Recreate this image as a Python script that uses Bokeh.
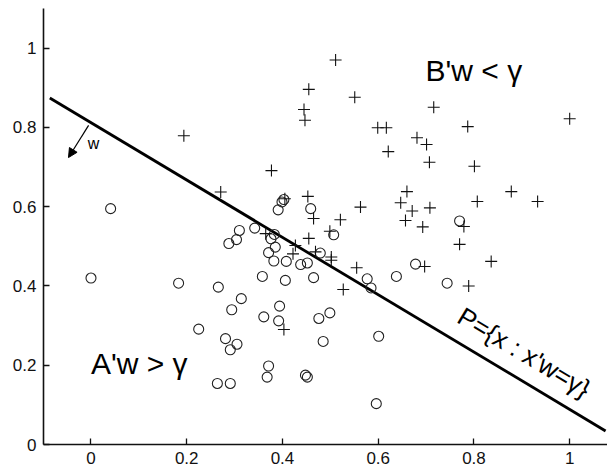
from bokeh.plotting import figure
from bokeh.models import Range1d, FixedTicker, Arrow, NormalHead
from bokeh.core.properties import value
from bokeh.embed import file_html
from bokeh.resources import INLINE

# Class A points (circles)
a_x = [0.000, 0.041, 0.183, 0.266, 0.314, 0.294, 0.225, 0.281, 0.305, 0.291,
       0.264, 0.291, 0.361, 0.394, 0.392, 0.371, 0.368, 0.358, 0.406, 0.408,
       0.382, 0.371, 0.385, 0.438, 0.452, 0.288, 0.304, 0.310, 0.342, 0.383,
       0.376, 0.391, 0.403, 0.399, 0.459, 0.507, 0.479, 0.465, 0.577, 0.585,
       0.638, 0.678, 0.744, 0.770, 0.499, 0.476, 0.485, 0.601, 0.448, 0.452,
       0.596]
a_y = [0.420, 0.595, 0.407, 0.397, 0.368, 0.340, 0.291, 0.267, 0.253, 0.239,
       0.154, 0.154, 0.322, 0.349, 0.312, 0.198, 0.170, 0.424, 0.414, 0.462,
       0.463, 0.484, 0.498, 0.454, 0.458, 0.507, 0.517, 0.540, 0.546, 0.530,
       0.519, 0.592, 0.618, 0.612, 0.595, 0.529, 0.483, 0.421, 0.418, 0.395,
       0.424, 0.455, 0.407, 0.564, 0.332, 0.318, 0.260, 0.273, 0.175, 0.170,
       0.103]

# Class B points (plus signs)
b_x = [0.194, 0.377, 0.271, 0.511, 0.455, 0.551, 0.445, 0.447, 0.599, 0.617,
       0.716, 0.621, 0.681, 0.701, 0.707, 0.787, 1.000, 0.801, 0.878, 0.933,
       0.807, 0.660, 0.647, 0.671, 0.657, 0.708, 0.693, 0.563, 0.521, 0.465,
       0.453, 0.499, 0.779, 0.455, 0.469, 0.502, 0.502, 0.555, 0.527, 0.697,
       0.770, 0.836, 0.789, 0.403, 0.427, 0.422, 0.365, 0.405]
b_y = [0.779, 0.691, 0.637, 0.970, 0.896, 0.876, 0.845, 0.818, 0.799, 0.799,
       0.851, 0.739, 0.774, 0.757, 0.712, 0.802, 0.822, 0.702, 0.638, 0.613,
       0.613, 0.638, 0.610, 0.589, 0.565, 0.597, 0.549, 0.599, 0.567, 0.570,
       0.626, 0.538, 0.550, 0.520, 0.486, 0.473, 0.465, 0.446, 0.391, 0.449,
       0.505, 0.462, 0.400, 0.290, 0.502, 0.481, 0.532, 0.620]

# Separating plane x'w = gamma  (slope / intercept form)
plane_slope = -0.7235
plane_intercept = 0.812
plane_x = [-0.086, 1.075]

x_ticks = [0, 0.2, 0.4, 0.6, 0.8, 1.0]
x_tick_labels = ["0", "0.2", "0.4", "0.6", "0.8", "1"]
y_ticks = [0, 0.2, 0.4, 0.6, 0.8, 1.0]
y_tick_labels = ["0", "0.2", "0.4", "0.6", "0.8", "1"]

FONT = "Liberation Sans"

p = figure(width=607, height=470, output_backend="svg", toolbar_location=None,
           x_range=Range1d(-0.0992, 1.079), y_range=Range1d(0, 1.1),
           min_border_left=43, min_border_right=0, min_border_top=8,
           min_border_bottom=26)
p.outline_line_color = None
p.xgrid.visible = False
p.ygrid.visible = False
p.background_fill_color = "white"
p.border_fill_color = "white"

for ax, ticks, labels, standoff in ((p.xaxis[0], x_ticks, x_tick_labels, 7),
                                    (p.yaxis[0], y_ticks, y_tick_labels, 7)):
    ax.ticker = FixedTicker(ticks=ticks)
    ax.major_label_overrides = {t: l for t, l in zip(ticks, labels)}
    ax.major_tick_in = 6
    ax.major_tick_out = 0
    ax.minor_tick_line_color = None
    ax.axis_line_color = "#111111"
    ax.axis_line_width = 1.6
    ax.major_tick_line_color = "#111111"
    ax.major_tick_line_width = 1.3
    ax.major_label_text_font = FONT
    ax.major_label_text_font_size = "17px"
    ax.major_label_text_color = "#111111"
    ax.major_label_standoff = standoff

# separating line
plane_y = [plane_intercept + plane_slope * xv for xv in plane_x]
p.line(plane_x, plane_y, line_color="black", line_width=2.8)

# points
p.scatter(a_x, a_y, marker="circle", size=10, fill_color=None,
          line_color="#222222", line_width=1.1)
p.scatter(b_x, b_y, marker="cross", size=12, line_color="#111111",
          line_width=1.1)

# normal vector arrow
p.add_layout(Arrow(end=NormalHead(size=9, fill_color="black", line_color="black"),
                   x_start=-0.005, y_start=0.805, x_end=-0.047, y_end=0.724,
                   line_color="black", line_width=1.2))
p.text(x=[-0.007], y=[0.760], text=["w"], text_font=value(FONT),
       text_font_size="16px", text_color="black",
       text_align="left", text_baseline="alphabetic")

# region labels
p.text(x=[0.699], y=[0.9435], text=["B'w < \u03b3"], text_font=value(FONT),
       text_font_size="30px", text_color="black",
       text_align="left", text_baseline="alphabetic")
p.text(x=[0.0], y=[0.204], text=["A'w > \u03b3"], text_font=value(FONT),
       text_font_size="30px", text_color="black",
       text_align="left", text_baseline="alphabetic")
p.text(x=[0.905], y=[0.232], text=["P={x : x'w=\u03b3}"], text_font=value(FONT),
       text_font_size="26px", text_color="black", angle=-0.54,
       text_align="center", text_baseline="middle")

open("out.html", "w").write(file_html(p, INLINE))
